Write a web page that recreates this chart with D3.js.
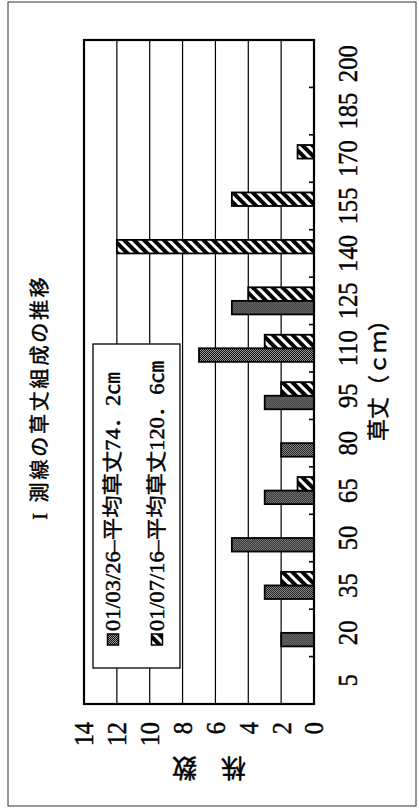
<!DOCTYPE html>
<html>
<head>
<meta charset="utf-8">
<script src="https://cdn.jsdelivr.net/npm/d3@7"></script>
<style>
  html, body { margin: 0; padding: 0; background: #fff; }
  svg { display: block; }
  text { fill: #000; }
</style>
</head>
<body>
<svg id="chart" width="419" height="809"></svg>
<script>
// Plant height classes (cm) and plant counts per survey date
const categories = ["5", "20", "35", "50", "65", "80", "95", "110", "125", "140", "155", "170", "185", "200"];
const seriesNames = ["01/03/26–平均草丈74．2㎝", "01/07/16–平均草丈120．6㎝"];
const march = [0, 2, 3, 5, 3, 2, 3, 7, 5, 0, 0, 0, 0, 0];
const july  = [0, 0, 2, 0, 1, 0, 2, 3, 4, 12, 5, 1, 0, 0];
const valueTicks = [0, 2, 4, 6, 8, 10, 12, 14];
const title = "I 測線の草丈組成の推移";
const xTitle = "草丈（ｃｍ）";
const yTitle = "株数";

const seriesValues = [march, july];
const rows = categories.map((c, i) => ({ cat: c, vals: seriesValues.map((s, k) => ({ key: seriesNames[k], k, v: s[i] })) }));

const svg = d3.select("#chart");
const FONT = "'Liberation Serif', 'Noto Sans CJK JP', serif";

// Patterns: dark dot screen and wide diagonal hatch
const defs = svg.append("defs");
const dots = defs.append("pattern").attr("id", "dots").attr("patternUnits", "userSpaceOnUse")
  .attr("width", 2).attr("height", 2);
dots.append("rect").attr("width", 2).attr("height", 2).attr("fill", "#9a9a9a");
dots.append("rect").attr("x", 0).attr("y", 0).attr("width", 1).attr("height", 1).attr("fill", "#111");
dots.append("rect").attr("x", 1).attr("y", 1).attr("width", 1).attr("height", 1).attr("fill", "#111");
const hatch = defs.append("pattern").attr("id", "hatch").attr("patternUnits", "userSpaceOnUse")
  .attr("width", 7).attr("height", 7).attr("patternTransform", "rotate(45)");
hatch.append("rect").attr("width", 7).attr("height", 7).attr("fill", "#fff");
hatch.append("rect").attr("x", 0).attr("y", 0).attr("width", 4).attr("height", 7).attr("fill", "#000");
const fills = ["url(#dots)", "url(#hatch)"];

// Outer frame (page coordinates)
svg.append("rect").attr("x", 8).attr("y", 2).attr("width", 408).attr("height", 804)
  .attr("fill", "none").attr("stroke", "#333").attr("stroke-width", 1);

// The chart is laid out landscape and turned a quarter turn anticlockwise
const W = 809;
const g = svg.append("g").attr("transform", `translate(0,${W}) rotate(-90)`);

const plot = { left: 105, right: 769, top: 84, bottom: 314 };

const x = d3.scaleBand().domain(categories).range([plot.left, plot.right]).padding(0);
const xs = d3.scaleBand().domain(seriesNames).range([0, x.bandwidth()]).paddingInner(0).paddingOuter(0.75);
const y = d3.scaleLinear().domain([0, 14]).range([plot.bottom, plot.top]);

// Gridlines
g.append("g").selectAll("line").data(valueTicks.filter(v => v > 0 && v < 14)).join("line")
  .attr("x1", plot.left).attr("x2", plot.right)
  .attr("y1", d => y(d)).attr("y2", d => y(d))
  .attr("stroke", "#000").attr("stroke-width", 1.2);

// Bars
const groups = g.append("g").selectAll("g").data(rows).join("g")
  .attr("transform", d => `translate(${x(d.cat)},0)`);
groups.selectAll("rect").data(d => d.vals.filter(e => e.v > 0)).join("rect")
  .attr("x", e => xs(e.key))
  .attr("width", xs.bandwidth())
  .attr("y", e => y(e.v))
  .attr("height", e => y(0) - y(e.v))
  .attr("fill", e => fills[e.k])
  .attr("stroke", "#000").attr("stroke-width", 1.8);

// Plot frame
g.append("rect").attr("x", plot.left).attr("y", plot.top)
  .attr("width", plot.right - plot.left).attr("height", plot.bottom - plot.top)
  .attr("fill", "none").attr("stroke", "#000").attr("stroke-width", 2.2);

// Category axis tick marks at class boundaries (pointing inward)
g.append("g").selectAll("line").data(categories.slice(1)).join("line")
  .attr("x1", d => x(d)).attr("x2", d => x(d))
  .attr("y1", plot.bottom).attr("y2", plot.bottom - 5)
  .attr("stroke", "#000").attr("stroke-width", 1.6);

const ink = sel => sel.attr("stroke", "#000").attr("stroke-width", 0.45);

// Category labels
g.append("g").selectAll("text").data(categories).join("text")
  .attr("transform", d => `translate(${x(d) + x.bandwidth() / 2},347) scale(0.88,1)`)
  .attr("text-anchor", "middle").attr("dy", "0.35em")
  .attr("font-family", FONT).attr("font-size", 28)
  .text(d => d).call(ink);

// Value labels
g.append("g").selectAll("text").data(valueTicks).join("text")
  .attr("transform", d => `translate(87,${y(d)}) scale(0.9,1)`)
  .attr("text-anchor", "end").attr("dy", "0.35em")
  .attr("font-family", FONT).attr("font-size", 27)
  .text(d => d).call(ink);

// Titles
g.append("text").attr("x", 412).attr("y", 40).attr("dy", "0.35em")
  .attr("text-anchor", "middle").attr("font-family", FONT).attr("font-size", 20)
  .attr("letter-spacing", 2.8)
  .text(title).call(ink);
g.append("text").attr("x", 434).attr("y", 378).attr("dy", "0.35em")
  .attr("text-anchor", "middle").attr("font-family", FONT).attr("font-size", 22)
  .text(xTitle).call(ink);
g.append("text").attr("transform", "translate(41,197) rotate(-90)")
  .attr("dy", "0.35em").attr("text-anchor", "middle")
  .attr("font-family", FONT).attr("font-size", 25).attr("letter-spacing", 24)
  .text(yTitle).call(ink);

// Legend
const lg = g.append("g");
lg.append("rect").attr("x", 141).attr("y", 93).attr("width", 324).attr("height", 87)
  .attr("fill", "#fff").attr("stroke", "#000").attr("stroke-width", 1.3);
const items = lg.selectAll("g.item").data(seriesNames).join("g").attr("class", "item")
  .attr("transform", (d, i) => `translate(164,${113 + i * 44})`);
items.append("rect").attr("x", 0).attr("y", -5.5).attr("width", 11).attr("height", 11)
  .attr("fill", (d, i) => fills[i]).attr("stroke", "#000").attr("stroke-width", 1.5);
items.append("text").attr("transform", "translate(14,0) scale(1.12,1)")
  .attr("dy", "0.35em").attr("font-family", FONT).attr("font-size", 20)
  .text(d => d).call(ink);
</script>
</body>
</html>
